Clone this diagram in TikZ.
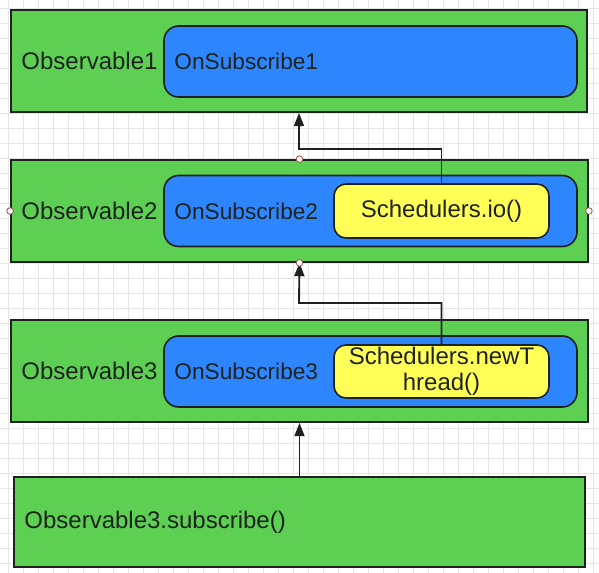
\documentclass[tikz,border=0pt]{standalone}
\usepackage{fontspec}
\setmainfont{Liberation Sans}
\usetikzlibrary{arrows.meta}
\usetikzlibrary{positioning}

\definecolor{obsgreen}{RGB}{93,208,84}
\definecolor{subblue}{RGB}{46,134,255}
\definecolor{schedyellow}{RGB}{255,255,87}
\definecolor{inkdark}{RGB}{30,34,30}
\definecolor{gridgray}{RGB}{230,230,230}
\definecolor{handlered}{RGB}{160,80,80}

\begin{document}
\begin{tikzpicture}[x=0.75pt, y=-0.75pt]
    \tikzset{
      obsbox/.style={draw=inkdark, line width=1.3pt, fill=obsgreen,
        minimum width=432pt, minimum height=76.5pt, inner sep=0pt},
      subbox/.style={draw=inkdark, line width=1.2pt, fill=subblue,
        rounded corners=11pt, minimum width=309.75pt, minimum height=53.25pt, inner sep=0pt},
      schedbox/.style={draw=inkdark, line width=1.2pt, fill=schedyellow,
        rounded corners=9pt, minimum width=161.25pt, minimum height=40.5pt,
        inner sep=0pt, align=center, text=inkdark,
        font=\fontsize{18}{19.5}\selectfont},
      lbl/.style={inner sep=0pt, anchor=west, text=inkdark,
        font=\fontsize{18}{21}\selectfont},
      sublbl/.style={lbl, font=\fontsize{17}{20}\selectfont},
      flow/.style={draw=inkdark, line width=1.4pt,
        -{Triangle[length=10pt, width=7.5pt]}},
      handle/.style={circle, draw=handlered, fill=white, line width=0.6pt,
        minimum size=5pt, inner sep=0pt},
      node distance=8.25pt,
    }
    \useasboundingbox (0,0) rectangle (599,572);

    % background grid
    \begin{scope}
      \clip (0,0) rectangle (599,572);
      \begin{scope}[shift={(8,8)}]
        \draw[gridgray, line width=0.5pt, step=11.25pt] (-20,-20) grid (600,570);
      \end{scope}
    \end{scope}

    % observables
    \node[obsbox] (obs1) at (299,61) {};
    \node[obsbox, minimum width=432.75pt] (obs2) at (299.5,211) {};
    \node[obsbox, minimum width=432.75pt] (obs3) at (299.5,371) {};
    \node[obsbox, minimum width=428.25pt, minimum height=67.5pt] (call) at (299.5,522) {};

    \node[lbl, right=of obs1.west] (obs1txt) {Observable1};
    \node[lbl, right=of obs2.west] (obs2txt) {Observable2};
    \node[lbl, right=of obs3.west] (obs3txt) {Observable3};
    \node[lbl, right=of call.west] (calltxt) {Observable3.subscribe()};

    % onsubscribe
    \node[subbox] (sub1) at (370.5,61.5) {};
    \node[subbox] (sub2) at (370.5,211) {};
    \node[subbox] (sub3) at (370.5,371.5) {};

    \node[sublbl, right=of sub1.west] (sub1txt) {OnSubscribe1};
    \node[sublbl, right=of sub2.west] (sub2txt) {OnSubscribe2};
    \node[sublbl, right=of sub3.west] (sub3txt) {OnSubscribe3};

    % schedulers
    \node[schedbox] (io) at (441.5,211) {Schedulers.io()};
    \node[schedbox, minimum height=39.75pt] (newthread) at (441.5,371.5) {Schedulers.newT\\hread()};

    % connectors
    \coordinate (bend1) at (299,149);
    \coordinate (bend2) at (299,303);
    \draw[flow] (io.north) |- (bend1) -- (obs1.south);
    \draw[flow] (newthread.north) |- (bend2) -- (obs2.south);
    \draw[flow] (call.north) -- (obs3.south);

    % selection handles
    \foreach \a in {north,south,west,east}
      \node[handle] (h-\a) at (obs2.\a) {};
  \end{tikzpicture}
\end{document}
